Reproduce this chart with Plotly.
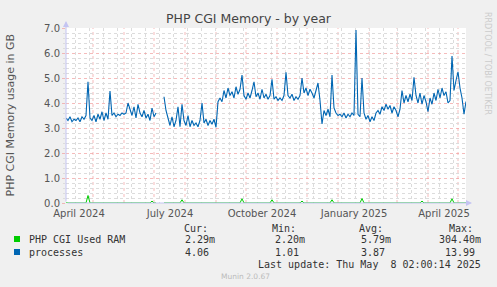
import pandas as pd
import plotly.graph_objects as go

# ---------------- data (2-day samples starting 2024-04-04) ----------------
start_date = "2024-04-04"
end_date = "2025-05-09"

processes = [
    3.4, 3.3, 3.45, 3.25, 3.35, 3.3, 3.4, 3.25, 3.45, 3.35,
    3.5, 4.85, 3.4, 3.3, 3.5, 3.25, 3.55, 3.35, 3.65, 3.3,
    3.6, 3.35, 4.48, 3.5, 3.6, 3.45, 3.55, 3.5, 3.6, 3.55,
    3.6, 4.0, 3.75, 3.5, 3.85, 3.4, 3.95, 3.6, 3.45, 3.7,
    3.4, 3.55, 3.3, 3.8, 3.45, 3.6, None, None, None, 4.25,
    3.7, 3.4, 3.1, 3.45, 3.05, 3.3, 3.85, 3.05, 3.95, 3.3,
    3.1, 3.5, 3.05, 3.3, 3.1, 3.2, 3.05, 3.3, 4.0, 3.2,
    3.35, 3.1, 3.3, 3.15, 3.35, 3.03, 4.05, 4.2, 4.05, 4.5,
    4.2, 4.6, 4.3, 4.45, 4.2, 4.65, 4.35, 4.55, 5.12, 4.3,
    4.15, 4.4, 4.2, 4.5, 4.85, 4.25, 4.4, 4.15, 4.55, 4.2,
    4.35, 4.15, 4.3, 4.95, 4.15, 4.25, 4.1, 4.2, 4.1, 4.3,
    5.23, 4.3, 4.2, 4.35, 4.1, 4.25, 4.15, 4.3, 5.0, 4.4,
    4.6, 4.3, 4.55, 4.4, 4.2, 4.5, 4.8, 4.1, 3.16, 3.7,
    3.5, 3.75, 3.45, 5.12, 3.8, 3.6, 3.5, 3.55, 3.45, 3.6,
    3.4, 3.55, 3.45, 3.6, 3.5, 6.92, 3.55, 3.45, 5.0, 3.6,
    3.35, 3.5, 3.25, 3.45, 3.3, 3.6, 3.7, 3.55, 3.85, 3.7,
    3.95, 3.75, 3.9, 3.6, 3.85, 3.7, 3.45, 3.75, 4.5, 4.0,
    4.3, 4.05, 4.35, 4.1, 5.03, 4.3, 4.0, 4.4, 3.95, 4.3,
    4.05, 3.65, 4.2, 3.95, 4.4, 4.1, 4.55, 4.2, 4.6, 4.3,
    4.45, 4.0, 4.1, 5.88, 4.5, 4.9, 5.25, 4.6, 4.2, 3.55,
    4.06,
]

used_ram = [
    0.0022, 0.0022, 0.0022, 0.0022, 0.0022, 0.0022, 0.0022, 0.0022, 0.0022, 0.0022,
    0.0022, 0.30, 0.0022, 0.0022, 0.0022, 0.0022, 0.0022, 0.0022, 0.0022, 0.0022,
    0.0022, 0.0022, 0.0022, 0.0022, 0.0022, 0.0022, 0.0022, 0.0022, 0.0022, 0.0022,
    0.0022, 0.0022, 0.0022, 0.0022, 0.0022, 0.0022, 0.0022, 0.0022, 0.0022, 0.0022,
    0.0022, 0.0022, 0.0022, 0.08, 0.0022, 0.0022, None, None, None, 0.0022,
    0.0022, 0.0022, 0.0022, 0.0022, 0.0022, 0.0022, 0.0022, 0.0022, 0.13, 0.0022,
    0.0022, 0.0022, 0.0022, 0.0022, 0.0022, 0.0022, 0.0022, 0.0022, 0.0022, 0.0022,
    0.0022, 0.0022, 0.0022, 0.0022, 0.0022, 0.0022, 0.0022, 0.0022, 0.0022, 0.0022,
    0.0022, 0.0022, 0.0022, 0.0022, 0.0022, 0.0022, 0.0022, 0.0022, 0.17, 0.0022,
    0.0022, 0.0022, 0.0022, 0.0022, 0.0022, 0.0022, 0.0022, 0.0022, 0.0022, 0.0022,
    0.0022, 0.0022, 0.0022, 0.13, 0.0022, 0.0022, 0.0022, 0.0022, 0.0022, 0.0022,
    0.0022, 0.0022, 0.0022, 0.0022, 0.0022, 0.0022, 0.0022, 0.0022, 0.08, 0.0022,
    0.0022, 0.0022, 0.0022, 0.0022, 0.0022, 0.0022, 0.0022, 0.0022, 0.0022, 0.0022,
    0.0022, 0.0022, 0.0022, 0.13, 0.0022, 0.0022, 0.0022, 0.0022, 0.0022, 0.0022,
    0.0022, 0.0022, 0.0022, 0.0022, 0.0022, 0.0022, 0.0022, 0.0022, 0.18, 0.0022,
    0.0022, 0.0022, 0.0022, 0.0022, 0.0022, 0.0022, 0.0022, 0.0022, 0.0022, 0.0022,
    0.0022, 0.0022, 0.0022, 0.0022, 0.0022, 0.0022, 0.0022, 0.0022, 0.0022, 0.0022,
    0.0022, 0.0022, 0.0022, 0.0022, 0.0022, 0.0022, 0.0022, 0.0022, 0.08, 0.0022,
    0.0022, 0.0022, 0.0022, 0.0022, 0.0022, 0.0022, 0.0022, 0.0022, 0.0022, 0.0022,
    0.0022, 0.0022, 0.0022, 0.17, 0.0022, 0.0022, 0.0022, 0.0022, 0.0022, 0.0022,
    0.0023,
]

x_labels = ["April 2024", "July 2024", "October 2024", "January 2025", "April 2025"]
x_label_months = ["2024-04-01", "2024-07-01", "2024-10-01", "2025-01-01", "2025-04-01"]

legend_names = ["PHP CGI Used RAM", "processes"]
legend_cur = ["2.29m", "4.06"]
legend_min = ["2.20m", "1.01"]
legend_avg = ["5.79m", "3.87"]
legend_max = ["304.40m", "13.99"]
colors = ["#00CC00", "#0066B3"]

# ---------------- figure ----------------
W, H = 497, 287
L, R, T, B = 66, 31, 28, 84
PW, PH = W - L - R, H - T - B


def px(xp):
    return (xp - L) / PW


def py(yp):
    return (H - B - yp) / PH


dates = pd.date_range(start_date, periods=len(processes), freq="2D")

fig = go.Figure()
fig.add_trace(go.Scatter(x=dates, y=used_ram, mode="lines",
                         line=dict(color=colors[0], width=1), connectgaps=False))
fig.add_trace(go.Scatter(x=dates, y=processes, mode="lines",
                         line=dict(color=colors[1], width=1.1), connectgaps=False))

label_pos = pd.to_datetime(x_label_months) + pd.Timedelta(days=16)
minor_grid = pd.date_range("2024-04-13", end_date, freq="14D")
month_lines = pd.date_range("2024-05-01", end_date, freq="MS")

red = "rgba(240,150,150,0.65)"
gray = "#DCDCDC"
mono = "DejaVu Sans Mono"
sans = "DejaVu Sans"

fig.update_layout(
    width=W, height=H,
    margin=dict(l=L, r=R, t=T, b=B, pad=0),
    paper_bgcolor="#F0F0F0",
    plot_bgcolor="#FFFFFF",
    showlegend=False,
    title=dict(text="PHP CGI Memory - by year", x=0.5, xref="container", xanchor="center",
               y=1 - 19 / H, yanchor="middle",
               font=dict(family=sans, size=12.5, color="#444444")),
    xaxis=dict(
        range=[start_date, end_date],
        tickmode="array", tickvals=label_pos, ticktext=x_labels,
        ticks="", showgrid=False, zeroline=False, showline=False,
        ticklabelstandoff=3,
        tickfont=dict(family=sans, size=10, color="#555555"),
        minor=dict(tickmode="array", tickvals=minor_grid, showgrid=True,
                   gridcolor=gray, griddash="dot", gridwidth=1, ticks=""),
    ),
    yaxis=dict(
        range=[0, 7], dtick=1, tick0=0, tickformat=".1f",
        showgrid=True, gridcolor=red, griddash="dot", gridwidth=1,
        zeroline=False, showline=False,
        ticks="outside", ticklen=3, tickcolor=red,
        tickfont=dict(family=sans, size=10, color="#555555"),
        minor=dict(dtick=0.2, showgrid=True, gridcolor=gray, griddash="dot", gridwidth=1,
                   ticks="outside", ticklen=2, tickcolor=gray),
    ),
)

for m in month_lines:
    fig.add_shape(type="line", xref="x", yref="paper", x0=m, x1=m, y0=0, y1=1,
                  line=dict(color=red, width=1, dash="dot"), layer="below")

ann = []
# axis arrows
axis_col = "#C4C4F2"
ann.append(dict(xref="paper", yref="paper", x=0, y=py(21), ax=0, ay=182, axref="pixel", ayref="pixel",
                showarrow=True, arrowhead=2, arrowsize=1.2, arrowwidth=1, arrowcolor=axis_col, text=""))
ann.append(dict(xref="paper", yref="paper", x=px(472), y=0, ax=-406, ay=0, axref="pixel", ayref="pixel",
                showarrow=True, arrowhead=2, arrowsize=1.2, arrowwidth=1, arrowcolor=axis_col, text=""))
# y axis title
ann.append(dict(xref="paper", yref="paper", x=px(10), y=py(115.5), text="PHP CGI Memory usage in GB",
                textangle=-90, showarrow=False, xanchor="center", yanchor="middle",
                font=dict(family=sans, size=11, color="#555555")))
# rrdtool watermark
ann.append(dict(xref="paper", yref="paper", x=px(487), y=py(63), text="RRDTOOL / TOBI OETIKER",
                textangle=90, showarrow=False, xanchor="center", yanchor="middle",
                font=dict(family=sans, size=8, color="#CCCCCC")))

txt = dict(family=mono, size=10, color="#333333")
heads = [("Cur:", 182), ("Min:", 270), ("Avg:", 357), ("Max:", 447)]
for h, xp in heads:
    ann.append(dict(xref="paper", yref="paper", x=px(xp), y=py(228), text=h, showarrow=False,
                    xanchor="left", yanchor="middle", font=txt))

rows_y = [239, 252]
for i in range(2):
    yy = py(rows_y[i])
    ann.append(dict(xref="paper", yref="paper", x=px(27), y=yy, text=legend_names[i], showarrow=False,
                    xanchor="left", yanchor="middle", font=txt))
    for vals, right in [(legend_cur, 217), (legend_min, 307), (legend_avg, 393), (legend_max, 483)]:
        v = vals[i]
        if not v.endswith("m"):
            right = right - 6
        ann.append(dict(xref="paper", yref="paper", x=px(right), y=yy, text=v, showarrow=False,
                        xanchor="right", yanchor="middle", font=txt))
    fig.add_shape(type="rect", xref="paper", yref="paper",
                  x0=px(14), x1=px(20), y0=py(rows_y[i] + 3), y1=py(rows_y[i] - 3),
                  line=dict(width=0), fillcolor=colors[i])

ann.append(dict(xref="paper", yref="paper", x=px(483), y=py(264),
                text="Last update: Thu May\u00a0\u00a08 02:00:14 2025", showarrow=False,
                xanchor="right", yanchor="middle", font=txt))
ann.append(dict(xref="paper", yref="paper", x=px(245), y=py(276), text="Munin 2.0.67", showarrow=False,
                xanchor="center", yanchor="middle", font=dict(family=sans, size=7.5, color="#BBBBBB")))

fig.update_layout(annotations=ann)

fig.write_html("out.html")
